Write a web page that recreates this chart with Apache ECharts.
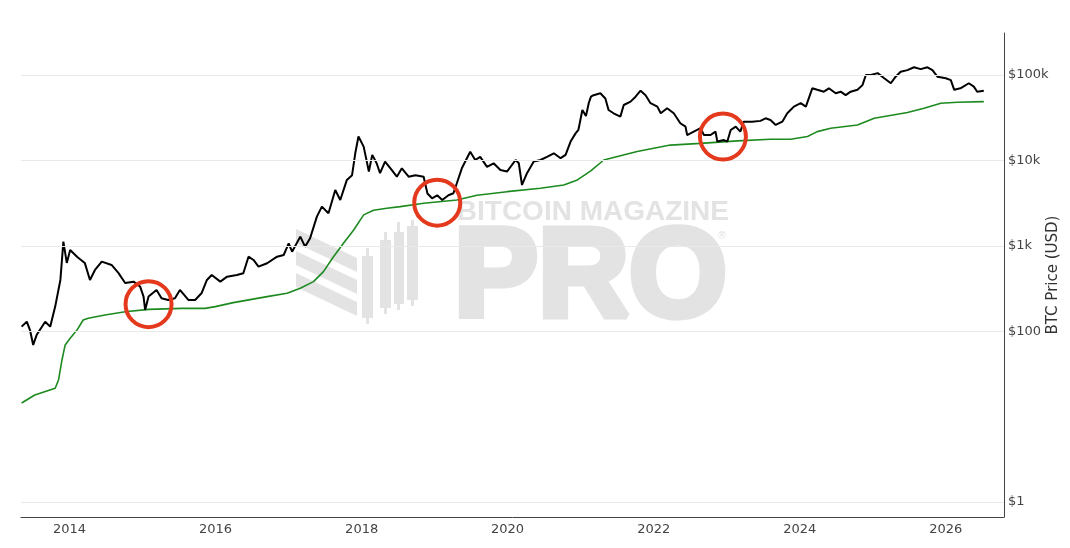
<!DOCTYPE html>
<html><head><meta charset="utf-8">
<script src="https://cdn.jsdelivr.net/npm/echarts@6/dist/echarts.min.js"></script>
<style>html,body{margin:0;padding:0;background:#fff}#c{width:1070px;height:548px}</style>
</head><body><div id="c"></div>
<script>
// ---- data ----
const priceDates = [
'2013-05-06','2013-06-01','2013-06-17','2013-07-03','2013-07-20','2013-09-01','2013-09-26','2013-10-21','2013-11-16','2013-12-01','2013-12-18',
'2014-01-04','2014-02-07','2014-03-18','2014-04-13','2014-05-08','2014-06-11','2014-07-30','2014-09-02','2014-10-06','2014-11-17','2014-12-20',
'2015-01-06','2015-01-14','2015-01-31','2015-03-12','2015-04-06','2015-05-09','2015-06-12','2015-07-07','2015-08-18','2015-09-21','2015-10-24','2015-11-19','2015-12-13',
'2016-01-25','2016-02-28','2016-04-17','2016-05-19','2016-06-14','2016-07-09','2016-08-03','2016-09-15','2016-11-04','2016-12-07',
'2017-01-01','2017-01-18','2017-02-28','2017-03-24','2017-04-18','2017-05-22','2017-06-16','2017-07-19','2017-08-22','2017-09-16','2017-10-19','2017-11-14','2017-11-30','2017-12-16',
'2018-01-11','2018-02-06','2018-02-23','2018-03-17','2018-04-03','2018-04-28','2018-06-01','2018-06-26','2018-07-21','2018-08-24','2018-09-27','2018-11-07','2018-11-12','2018-11-26','2018-12-19',
'2019-01-14','2019-02-08','2019-03-11','2019-04-05','2019-04-22','2019-05-17','2019-06-28','2019-07-23','2019-08-17','2019-09-20','2019-10-23','2019-11-26','2019-12-29',
'2020-02-10','2020-02-26','2020-03-13','2020-04-07','2020-05-10','2020-06-13','2020-07-16','2020-08-19','2020-09-22','2020-10-17','2020-11-11','2020-12-06','2020-12-20',
'2021-01-09','2021-01-27','2021-02-10','2021-02-21','2021-03-06','2021-04-09','2021-05-04','2021-05-20','2021-06-14','2021-07-18','2021-08-04','2021-09-07','2021-10-02','2021-10-27','2021-11-21','2021-12-16',
'2022-01-19','2022-02-05','2022-03-09','2022-04-11','2022-05-14','2022-06-09','2022-06-17','2022-07-20','2022-08-23','2022-09-09','2022-10-12','2022-11-06','2022-11-15','2022-12-18',
'2023-01-04','2023-01-21','2023-02-15','2023-03-10','2023-03-27','2023-05-08','2023-06-19','2023-07-14','2023-08-08','2023-09-03','2023-10-06','2023-10-31','2023-12-03',
'2024-01-06','2024-02-01','2024-03-04','2024-03-29','2024-05-01','2024-05-26','2024-06-29','2024-07-24','2024-08-18','2024-09-12','2024-10-16','2024-11-10','2024-11-27','2024-12-22',
'2025-01-25','2025-02-27','2025-04-01','2025-04-25','2025-05-20','2025-06-23','2025-07-26','2025-08-28','2025-10-01','2025-10-26','2025-11-20',
'2026-01-01','2026-01-26','2026-02-12','2026-03-15','2026-04-26','2026-05-21','2026-06-07','2026-07-10'
];
const priceValues = [
113,129,103,69,90,129,113,194,398,1117,630,
893,745,630,398,521,652,596,481,366,380,332,
254,177,254,304,243,232,243,304,232,232,280,398,455,
380,435,455,477,745,682,569,624,745,780,
1069,853,1279,976,1225,2192,2873,2403,4500,3440,5900,6700,12100,19000,
14500,7400,11600,9250,7070,9660,7700,6440,8070,6440,6700,6440,6200,4100,3600,
3900,3440,3900,4120,5400,8070,12600,10100,11000,8400,9250,7700,7400,
10100,9250,5150,7070,9660,10100,11000,12100,10600,11600,16600,20700,22700,
38900,33000,47000,55700,58000,61000,53000,38900,35600,32500,44500,48700,55700,65500,58000,46700,
42600,35600,40700,35600,27200,24800,19800,21700,23800,19800,19800,21700,16600,17300,
16600,22700,24800,21700,28400,28400,29000,31100,29700,26000,28400,35600,42600,
46700,42600,69800,67000,63700,69800,61000,63700,58000,63700,67000,76000,100000,100000,
105000,91500,80000,95500,109000,114000,123000,117000,123000,114000,95500,
91500,87000,67000,69800,80000,73000,63700,65500
];
const cvddDates = [
'2013-05-06','2013-07-11','2013-10-21','2013-11-07','2013-11-24','2013-12-10','2014-01-04','2014-02-07','2014-03-10','2014-04-04','2014-06-27','2014-10-06',
'2015-01-31','2015-07-16','2015-11-10','2015-12-31','2016-03-30','2016-09-15','2016-12-24','2017-02-28','2017-05-05','2017-06-24','2017-08-13','2017-10-02','2017-11-22',
'2018-01-11','2018-03-01','2018-05-07','2018-07-13','2018-11-07','2019-04-22','2019-08-01','2019-12-29','2020-06-13','2020-10-08','2020-12-15',
'2021-02-20','2021-04-26','2021-10-10','2022-03-25','2022-08-23','2023-02-24','2023-08-08','2023-11-17','2024-02-09','2024-03-29','2024-06-04','2024-10-16',
'2025-01-08','2025-06-23','2025-09-14','2025-12-07','2026-02-28','2026-07-10'
];
const cvddValues = [
14.4,17.9,21.5,27,46,69,82.6,103,135,142,155,169,
180,185,185,194,216,254,278,318,380,498,745,1069,1530,
2300,2600,2750,2870,3150,3440,3900,4300,4710,5150,5900,
7550,10100,12700,15100,15800,16900,17700,17700,19000,21700,23800,26000,
31100,36400,40700,46700,47900,48700
];
const circleDates = ['2015-01-31','2019-01-14','2022-12-13'];
const circleValues = [207, 3200, 19000];
const yTickValues = [1, 100, 1000, 10000, 100000];
const yTickLabels = ['$1', '$100', '$1k', '$10k', '$100k'];
const xTickYears = [2014, 2016, 2018, 2020, 2022, 2024, 2026];
const xRange = ['2013-05-03', '2026-10-19'];

// ---- chart ----
const ts = s => { const p = s.split('-').map(Number); return new Date(p[0], p[1] - 1, p[2]).getTime(); };
const pairs = (d, v) => d.map((x, i) => [ts(x), v[i]]);
const WM = '#e3e3e3';
const wmGraphics = [
  {type:'polygon', shape:{points:[[296,229],[357,258],[357,272],[296,243]]}, style:{fill:WM}},
  {type:'polygon', shape:{points:[[296,251],[357,280],[357,294],[296,265]]}, style:{fill:WM}},
  {type:'polygon', shape:{points:[[296,273],[357,302],[357,316],[296,287]]}, style:{fill:WM}},
  {type:'rect', shape:{x:362,y:256,width:11,height:62}, style:{fill:WM}},
  {type:'rect', shape:{x:366,y:248,width:3,height:76}, style:{fill:WM}},
  {type:'rect', shape:{x:380,y:240,width:11,height:68}, style:{fill:WM}},
  {type:'rect', shape:{x:384,y:232,width:3,height:82}, style:{fill:WM}},
  {type:'rect', shape:{x:394,y:232,width:10,height:72}, style:{fill:WM}},
  {type:'rect', shape:{x:397,y:222,width:3,height:88}, style:{fill:WM}},
  {type:'rect', shape:{x:407,y:226,width:11,height:74}, style:{fill:WM}},
  {type:'rect', shape:{x:411,y:220,width:3,height:86}, style:{fill:WM}},
  {type:'text', x:729, y:212, style:{text:'BITCOIN MAGAZINE', font:'bold 28px "Liberation Sans"', fill:WM, align:'right', verticalAlign:'middle'}},
  {type:'text', x:727, y:281, style:{text:'PRO', font:'bold 126px "Liberation Sans"', fill:WM, stroke:WM, lineWidth:7, align:'right', verticalAlign:'middle'}},
  {type:'text', x:722, y:236, style:{text:'®', font:'10px "DejaVu Sans"', fill:WM, align:'center', verticalAlign:'middle'}}
].map(g => Object.assign({z:0, silent:true}, g));

const chart = echarts.init(document.getElementById('c'), null, {renderer:'canvas'});
chart.setOption({
  animation: false,
  backgroundColor: '#ffffff',
  graphic: wmGraphics,
  grid: {left:21, right:66, top:33, bottom:31, containLabel:false, outerBoundsMode:'none'},
  xAxis: {
    type:'value', min: ts(xRange[0]), max: ts(xRange[1]), scale:true,
    axisLine:{show:true, onZero:false, lineStyle:{color:'#444', width:1}},
    axisTick:{show:false}, splitLine:{show:false},
    axisLabel:{
      customValues: xTickYears.map(y => new Date(y, 0, 1).getTime()),
      formatter: v => String(new Date(v).getFullYear()),
      color:'#444', fontFamily:'DejaVu Sans', fontSize:13, margin:6
    }
  },
  yAxis: {
    type:'log', logBase:10, position:'right', min:0.667, max:310000,
    axisLine:{show:true, onZero:false, lineStyle:{color:'#444', width:1}},
    axisTick:{show:false}, splitLine:{show:false},
    axisLabel:{
      formatter: v => {
        for (let i = 0; i < yTickValues.length; i++) {
          if (Math.abs(Math.log10(v) - Math.log10(yTickValues[i])) < 1e-6) return yTickLabels[i];
        }
        return '';
      },
      color:'#444', fontFamily:'DejaVu Sans', fontSize:13, margin:4
    },
    name:'BTC Price (USD)', nameLocation:'middle', nameRotate:90, nameGap:42, nameMoveOverlap:false,
    nameTextStyle:{color:'#333', fontFamily:'DejaVu Sans', fontSize:15}
  },
  series: [
    {
      name:'CVDD', type:'line', data: pairs(cvddDates, cvddValues), showSymbol:false, symbol:'none',
      lineStyle:{color:'#1d8a20', width:1.6}, z:3,
      markLine:{
        silent:true, symbol:['none','none'], label:{show:false}, animation:false,
        lineStyle:{color:'#e9e9e9', type:'solid', width:1},
        data: yTickValues.map(v => ({yAxis:v}))
      }
    },
    {
      name:'BTC Price', type:'line', data: pairs(priceDates, priceValues), showSymbol:false, symbol:'none',
      lineStyle:{color:'#000000', width:2}, z:4,
      markPoint:{
        silent:true, symbol:'circle', symbolSize:46, label:{show:false},
        itemStyle:{color:'rgba(0,0,0,0)', borderColor:'#e5391e', borderWidth:4},
        data: circleDates.map((d, i) => ({coord:[ts(d), circleValues[i]]}))
      }
    }
  ]
});
</script></body></html>
